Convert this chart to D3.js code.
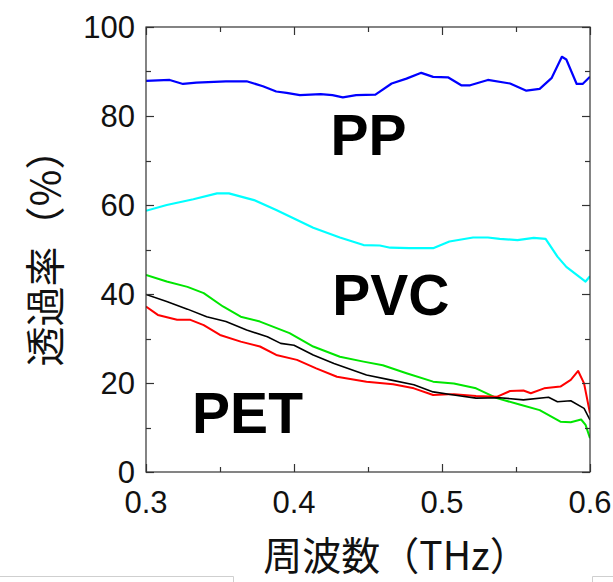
<!DOCTYPE html>
<html>
<head>
<meta charset="utf-8">
<script src="https://cdn.jsdelivr.net/npm/d3@7"></script>
<style>
  body { margin: 0; background: #fff; }
  svg { display: block; }
</style>
</head>
<body>
<div id="chart"></div>
<script>
// frequency (THz) vs transmittance (%)
const ppData = [
    [0.300, 87.9], [0.316, 88.1], [0.325, 87.2], [0.334, 87.5], [0.354, 87.8],
    [0.368, 87.8], [0.379, 86.7], [0.388, 85.5], [0.395, 85.2], [0.404, 84.7],
    [0.418, 84.9], [0.426, 84.7], [0.433, 84.2], [0.442, 84.7], [0.455, 84.8],
    [0.466, 87.3], [0.476, 88.4], [0.486, 89.7], [0.494, 88.8], [0.504, 88.7],
    [0.513, 86.9], [0.519, 86.9], [0.531, 88.1], [0.546, 87.3], [0.557, 85.7],
    [0.566, 86.1], [0.574, 88.5], [0.581, 93.3], [0.584, 92.7], [0.591, 87.2],
    [0.595, 87.2], [0.600, 88.8]
];
const pvcData = [
    [0.300, 58.7], [0.314, 60.0], [0.332, 61.3], [0.348, 62.6], [0.356, 62.6],
    [0.373, 61.1], [0.388, 58.9], [0.413, 54.9], [0.431, 52.7], [0.447, 51.0],
    [0.458, 50.9], [0.465, 50.4], [0.478, 50.3], [0.494, 50.3], [0.505, 51.8],
    [0.521, 52.7], [0.531, 52.7], [0.539, 52.4], [0.551, 52.1], [0.562, 52.6],
    [0.570, 52.4], [0.578, 48.4], [0.584, 46.1], [0.597, 42.8], [0.600, 44.0]
];
const greenData = [
    [0.300, 44.3], [0.314, 42.8], [0.328, 41.6], [0.339, 40.2], [0.352, 37.2],
    [0.364, 34.9], [0.377, 33.8], [0.397, 31.2], [0.413, 28.2], [0.431, 25.9],
    [0.447, 24.8], [0.460, 24.0], [0.476, 22.2], [0.494, 20.3], [0.508, 19.9],
    [0.523, 18.8], [0.537, 16.6], [0.553, 15.1], [0.566, 13.9], [0.580, 11.3],
    [0.587, 11.2], [0.594, 11.8], [0.597, 10.6], [0.600, 7.6]
];
const blackData = [
    [0.300, 39.9], [0.314, 38.3], [0.328, 36.6], [0.341, 34.9], [0.354, 33.8],
    [0.368, 31.9], [0.382, 30.4], [0.391, 28.9], [0.400, 28.5], [0.413, 26.3],
    [0.427, 24.4], [0.449, 21.8], [0.465, 20.7], [0.481, 19.6], [0.494, 18.0],
    [0.508, 17.3], [0.523, 16.6], [0.539, 16.7], [0.555, 16.2], [0.572, 16.8],
    [0.578, 15.8], [0.587, 16.0], [0.596, 14.3], [0.600, 11.7]
];
const redData = [
    [0.300, 37.2], [0.308, 35.3], [0.321, 34.2], [0.330, 34.2], [0.339, 33.0],
    [0.350, 30.8], [0.364, 29.3], [0.377, 28.2], [0.388, 26.3], [0.402, 25.2],
    [0.415, 23.3], [0.429, 21.4], [0.449, 20.3], [0.467, 19.7], [0.481, 18.8],
    [0.494, 17.3], [0.508, 17.5], [0.523, 17.1], [0.537, 16.9], [0.546, 18.2],
    [0.555, 18.3], [0.560, 17.7], [0.569, 18.8], [0.580, 19.2], [0.587, 20.7],
    [0.592, 22.7], [0.596, 19.9], [0.600, 13.2]
];

const xTicks = [0.3, 0.4, 0.5, 0.6];
const xMinor = [0.35, 0.45, 0.55];
const yTicks = [0, 20, 40, 60, 80, 100];
const yMinor = [10, 30, 50, 70, 90];

const series = [
    {name: "PP", data: ppData, color: "#0000ff", w: 2.2},
    {name: "PVC", data: pvcData, color: "#00ffff", w: 2.2},
    {name: "green", data: greenData, color: "#00e600", w: 2},
    {name: "red", data: redData, color: "#ff0000", w: 2},
    {name: "black", data: blackData, color: "#000000", w: 1.6}
];

const labels = [
    {text: "PP", x: 0.4503, y: 71.2},
    {text: "PVC", x: 0.4655, y: 35.3},
    {text: "PET", x: 0.3686, y: 8.8},
];

const width = 613, height = 582;
const m = {left: 146, right: 590, top: 27, bottom: 472};

const svg = d3.select("#chart").append("svg")
    .attr("width", width)
    .attr("height", height);

const x = d3.scaleLinear().domain([0.3, 0.6]).range([m.left, m.right]);
const y = d3.scaleLinear().domain([0, 100]).range([m.bottom, m.top]);

// page artefacts along the bottom edge
svg.append("path")
    .attr("d", "M0,576.5H233.5V582 M613,576.5H592.5V582")
    .attr("fill", "none")
    .attr("stroke", "#cfcfcf");

const line = d3.line()
    .x(d => x(d[0]))
    .y(d => y(d[1]));

svg.append("clipPath").attr("id", "clip")
    .append("rect")
    .attr("x", m.left).attr("y", m.top)
    .attr("width", m.right - m.left).attr("height", m.bottom - m.top);

svg.append("g")
    .attr("clip-path", "url(#clip)")
    .selectAll("path")
    .data(series)
    .enter().append("path")
    .attr("d", d => line(d.data))
    .attr("fill", "none")
    .attr("stroke", d => d.color)
    .attr("stroke-width", d => d.w)
    .attr("stroke-linejoin", "round");

// ticks on all four sides, pointing inward
const tickFont = "'Liberation Sans', Arial, sans-serif";
const ax = svg.append("g").attr("stroke", "#333").attr("stroke-width", 1.2);

function ticks(g, scale, values, len, orient) {
    values.forEach(v => {
        const p = Math.round(scale(v)) + 0.5;
        if (orient === "x") {
            g.append("line").attr("x1", p).attr("x2", p).attr("y1", m.bottom).attr("y2", m.bottom - len);
            g.append("line").attr("x1", p).attr("x2", p).attr("y1", m.top).attr("y2", m.top + len);
        } else {
            g.append("line").attr("y1", p).attr("y2", p).attr("x1", m.left).attr("x2", m.left + len);
            g.append("line").attr("y1", p).attr("y2", p).attr("x1", m.right).attr("x2", m.right - len);
        }
    });
}
ticks(ax, x, xTicks, 8, "x");
ticks(ax, x, xMinor, 5, "x");
ticks(ax, y, yTicks, 8, "y");
ticks(ax, y, yMinor, 5, "y");

ax.append("rect")
    .attr("x", m.left).attr("y", m.top)
    .attr("width", m.right - m.left).attr("height", m.bottom - m.top)
    .attr("fill", "none");

// tick labels
svg.append("g")
    .selectAll("text")
    .data(xTicks)
    .enter().append("text")
    .attr("x", d => x(d))
    .attr("y", 513)
    .attr("text-anchor", "middle")
    .attr("font-family", tickFont)
    .attr("font-size", 31)
    .attr("fill", "#111")
    .text(d => d.toFixed(1));

svg.append("g")
    .selectAll("text")
    .data(yTicks)
    .enter().append("text")
    .attr("x", 135)
    .attr("y", d => y(d) + 11)
    .attr("text-anchor", "end")
    .attr("font-family", tickFont)
    .attr("font-size", 31)
    .attr("fill", "#111")
    .text(d => d);

// material labels
svg.append("g")
    .selectAll("text")
    .data(labels)
    .enter().append("text")
    .attr("x", d => x(d.x))
    .attr("y", d => y(d.y))
    .attr("text-anchor", "middle")
    .attr("font-family", tickFont)
    .attr("font-weight", "bold")
    .attr("font-size", 57)
    .attr("fill", "#000")
    .text(d => d.text);

// axis titles
const jpFont = "'Noto Sans CJK JP', 'Noto Sans CJK SC', sans-serif";
svg.append("text")
    .attr("transform", "translate(60,248) rotate(-90)")
    .attr("text-anchor", "middle")
    .attr("font-family", jpFont)
    .attr("font-size", 40)
    .attr("fill", "#111")
    .text("透過率（%）");

svg.append("text")
    .attr("x", 396)
    .attr("y", 570)
    .attr("text-anchor", "middle")
    .attr("font-family", jpFont)
    .attr("font-size", 39)
    .attr("fill", "#111")
    .text("周波数（THz）");
</script>
</body>
</html>
